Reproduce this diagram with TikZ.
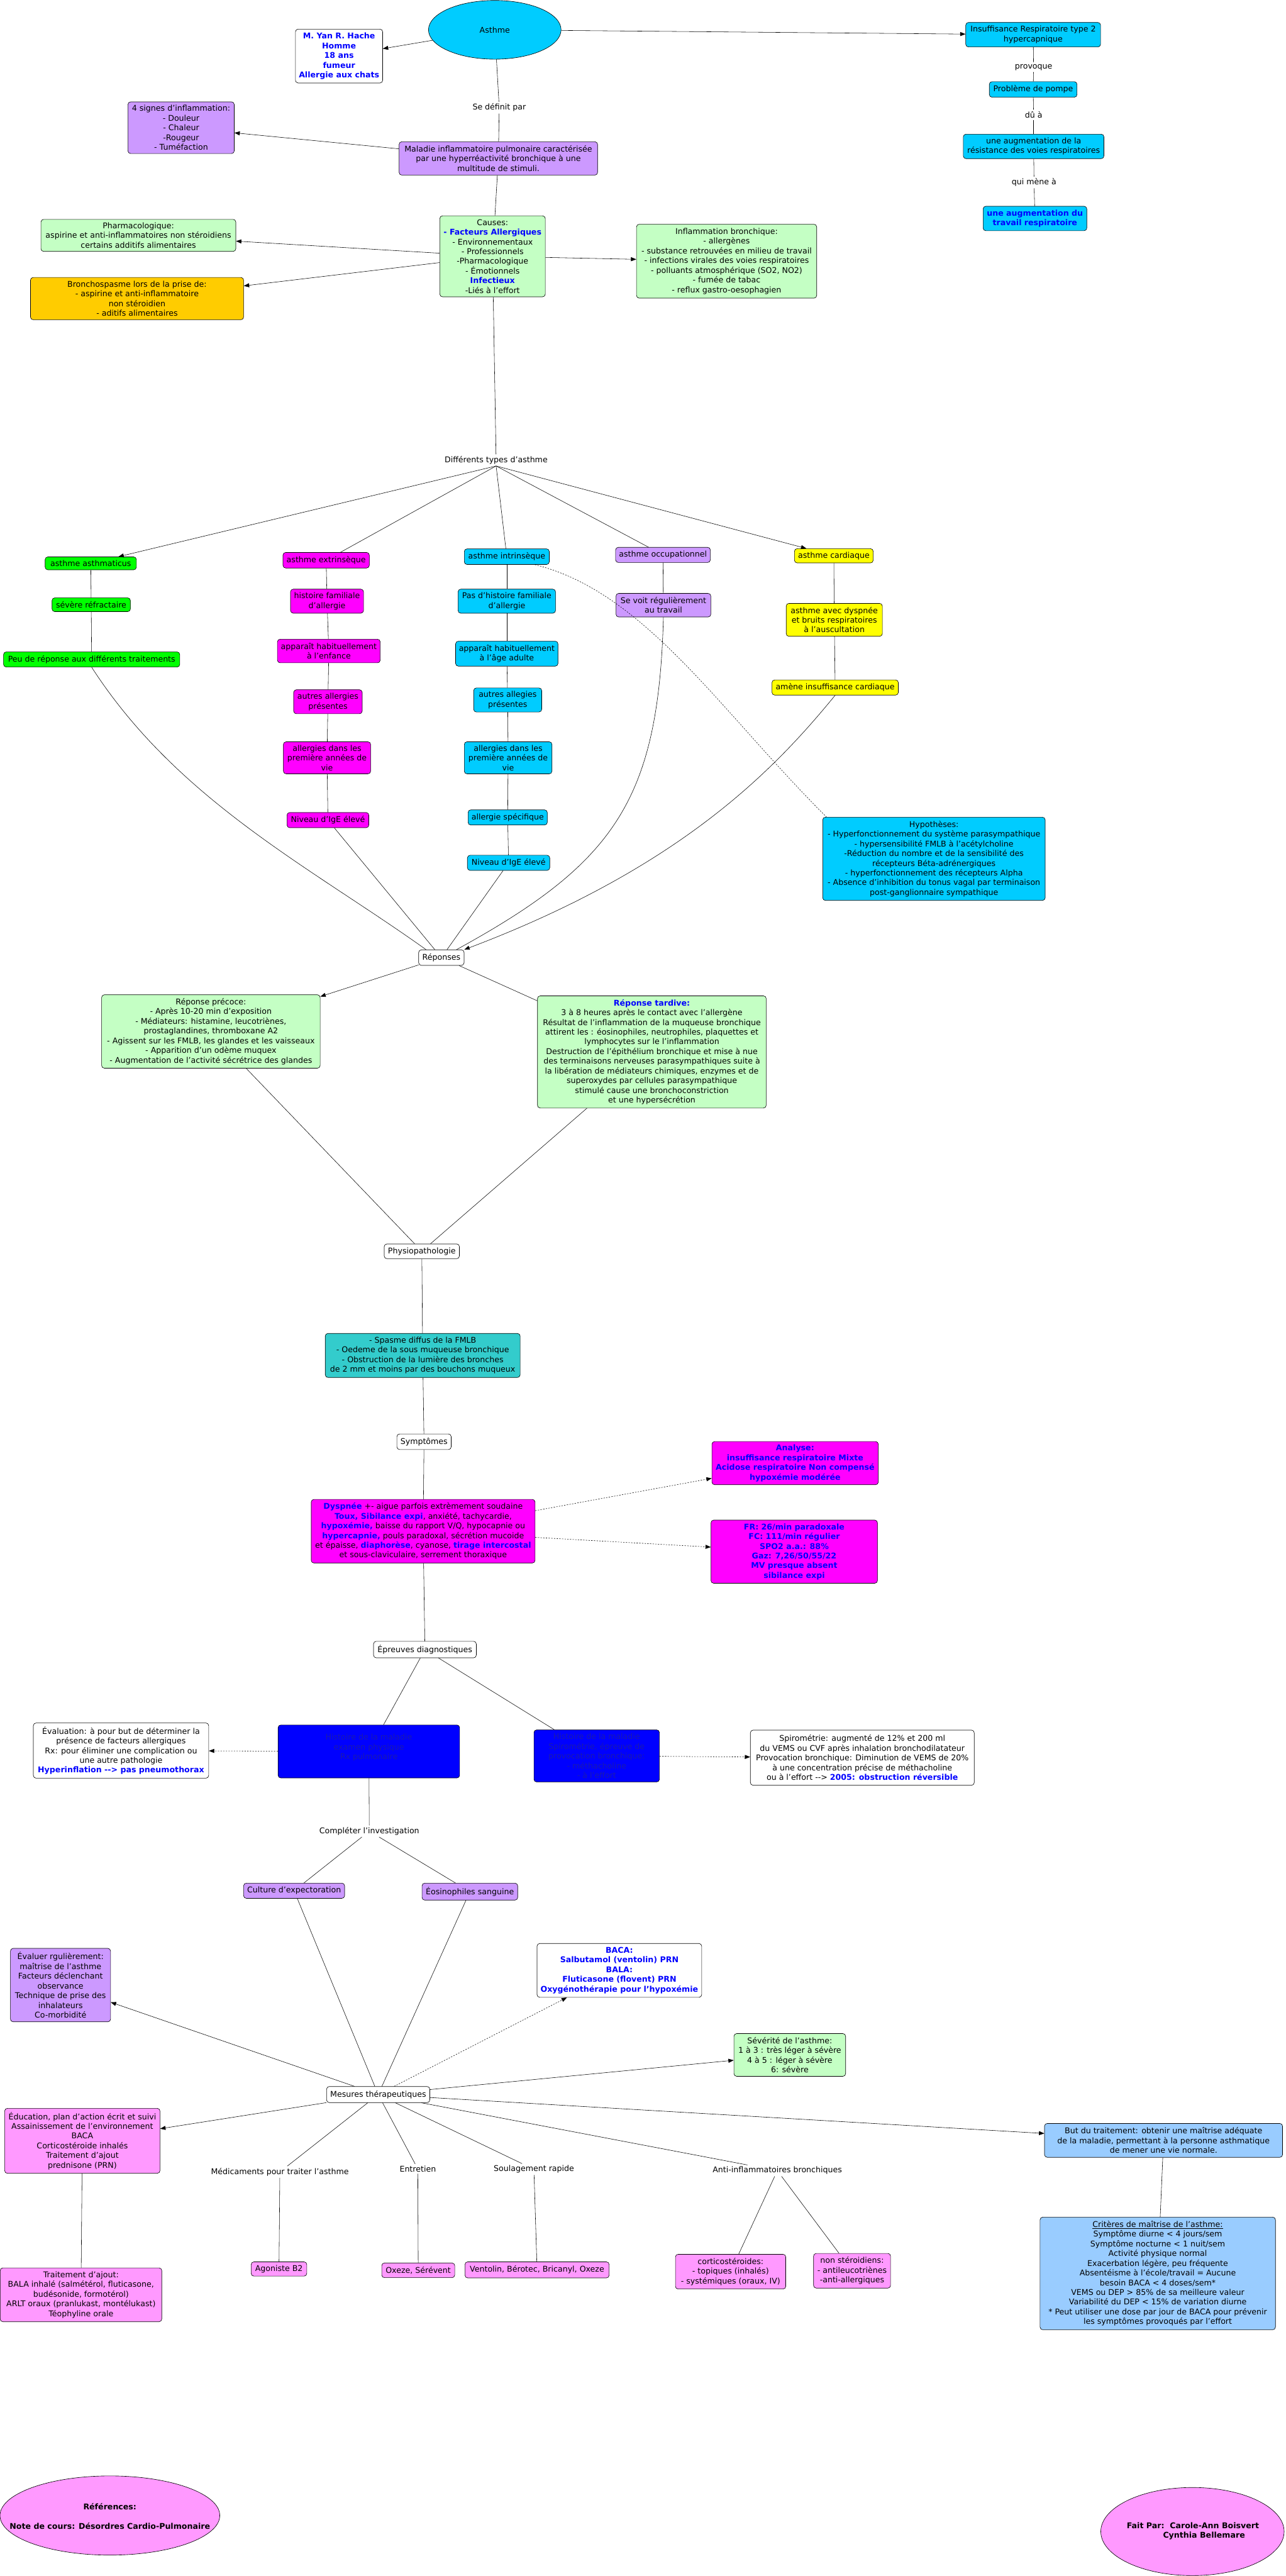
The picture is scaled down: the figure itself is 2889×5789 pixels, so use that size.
\documentclass[tikz,border=0pt]{standalone}
\usepackage{fontspec}
\setmainfont{DejaVu Sans}
\usetikzlibrary{shapes.geometric,arrows.meta,calc}
\definecolor{ccyan}{HTML}{00CCFF}
\definecolor{cpurple}{HTML}{CC99FF}
\definecolor{cgreen}{HTML}{C4FFC4}
\definecolor{corange}{HTML}{FFCC00}
\definecolor{cvert}{HTML}{00FF00}
\definecolor{cmag}{HTML}{FF00FF}
\definecolor{cyel}{HTML}{FFFF00}
\definecolor{cteal}{HTML}{33CCCC}
\definecolor{cblue}{HTML}{0000FF}
\definecolor{cpink}{HTML}{FF99FF}
\definecolor{clblue}{HTML}{99CCFF}
\definecolor{tblue}{HTML}{0000FF}
\definecolor{tnavy}{HTML}{1A1AB0}
\newcommand\bluebf[1]{\textcolor{tblue}{\bfseries #1}}
\begin{document}
\begin{tikzpicture}[x=1pt,y=-1pt,
  every node/.style={font=\fontsize{17.8}{21.8}\selectfont, align=center},
  box/.style={draw, rounded corners=6pt, inner sep=2pt, line width=0.9pt},
  sz/.style 2 args={minimum width=#1, minimum height=#2},
  lbl/.style={inner sep=4pt},
  conn/.style={line width=0.8pt},
  arr/.style={conn,-{Triangle[length=12pt,width=9pt]}},
  dotarr/.style={conn, dash pattern=on 3pt off 3pt, -{Triangle[length=12pt,width=9pt]}},
  dashc/.style={conn, dash pattern=on 3pt off 3pt},
  bigell/.style={ellipse, draw, line width=0.9pt, inner sep=0pt}
]
\fill[white] (0,0) rectangle (2889,5789);
\useasboundingbox (0,0) rectangle (2889,5789);

% ---------------- top ----------------
\node[bigell, fill=ccyan, sz={298}{132}] (asthme) at (1112,67) {Asthme};
\node[box, fill=white, sz={196}{121}] (hache) at (762,126) {\bluebf{M. Yan R. Hache}\\\bluebf{Homme}\\\bluebf{18 ans}\\\bluebf{fumeur}\\\bluebf{Allergie aux chats}};
\node[lbl] (sedef) at (1122,242) {Se définit par};
\node[box, fill=cpurple, sz={239}{116}] (signes) at (407,287) {4 signes d'inflammation:\\- Douleur\\- Chaleur\\-Rougeur\\- Tuméfaction};
\node[box, fill=cpurple, sz={446}{75}] (maladie) at (1120,356) {Maladie inflammatoire pulmonaire caractérisée\\par une hyperréactivité bronchique à une\\multitude de stimuli.};
\node[box, fill=cgreen, sz={237}{182}] (causes) at (1107,576) {Causes:\\\bluebf{- Facteurs Allergiques}\\- Environnementaux\\- Professionnels\\-Pharmacologique\\- Émotionnels\\\bluebf{Infectieux}\\-Liés à l'effort};
\node[box, fill=cgreen, sz={438}{72}] (pharma) at (311,529) {Pharmacologique:\\aspirine et anti-inflammatoires non stéroidiens\\certains additifs alimentaires};
\node[box, fill=corange, sz={479}{95}] (broncho) at (308,671) {Bronchospasme lors de la prise de:\\- aspirine et anti-inflammatoire\\non stéroidien\\- aditifs alimentaires};
\node[box, fill=cgreen, sz={405}{166}] (inflam) at (1633,587) {Inflammation bronchique:\\- allergènes\\- substance retrouvées en milieu de travail\\- infections virales des voies respiratoires\\- polluants atmosphérique (SO2, NO2)\\- fumée de tabac\\- reflux gastro-oesophagien};
\node[box, fill=ccyan, sz={303}{55}] (insuf) at (2322,78) {Insuffisance Respiratoire type 2\\hypercapnique};
\node[lbl] (provoque) at (2323,151) {provoque};
\node[box, fill=ccyan, sz={197}{35}] (pompe) at (2322,201) {Problème de pompe};
\node[lbl] (dua) at (2323,258) {dû à};
\node[box, fill=ccyan, sz={316}{55}] (resist) at (2323,329) {une augmentation de la\\résistance des voies respiratoires};
\node[lbl] (mene) at (2324,410) {qui mène à};
\node[box, fill=ccyan, sz={233}{55}] (travail) at (2326,491) {\bluebf{une augmentation du}\\\bluebf{travail respiratoire}};
\node[lbl] (types) at (1115,1034) {Différents types d'asthme};

% ---------------- types ----------------
\node[box, fill=cvert, sz={205}{29}] (asthmaticus) at (204,1266) {asthme asthmaticus};
\node[box, fill=cvert, sz={176}{31}] (severe) at (205,1359) {sévère réfractaire};
\node[box, fill=cvert, sz={396}{34}] (peu) at (206,1482) {Peu de réponse aux différents traitements};
\node[box, fill=cmag, sz={194}{35}] (extr) at (733,1259) {asthme extrinsèque};
\node[box, fill=cmag, sz={164}{54}] (exta) at (735,1351) {histoire familiale\\d'allergie};
\node[box, fill=cmag, sz={231}{53}] (extb) at (739,1463) {apparaît habituellement\\à l'enfance};
\node[box, fill=cmag, sz={154}{54}] (extc) at (737,1577) {autres allergies\\présentes};
\node[box, fill=cmag, sz={196}{72}] (extd) at (735,1703) {allergies dans les\\première années de\\vie};
\node[box, fill=cmag, sz={184}{34}] (exte) at (737,1843) {Niveau d'IgE élevé};
\node[box, fill=ccyan, sz={191}{35}] (intr) at (1139,1251) {asthme intrinsèque};
\node[box, fill=ccyan, sz={219}{54}] (inta) at (1139,1351) {Pas d'histoire familiale\\d'allergie};
\node[box, fill=ccyan, sz={230}{56}] (intb) at (1139,1469) {apparaît habituellement\\à l'âge adulte};
\node[box, fill=ccyan, sz={153}{54}] (intc) at (1141,1573) {autres allegies\\présentes};
\node[box, fill=ccyan, sz={197}{72}] (intd) at (1142,1703) {allergies dans les\\première années de\\vie};
\node[box, fill=ccyan, sz={178}{34}] (inte) at (1141,1837) {allergie spécifique};
\node[box, fill=ccyan, sz={185}{34}] (intf) at (1143,1939) {Niveau d'IgE élevé};
\node[box, fill=cpurple, sz={213}{34}] (occ) at (1490,1247) {asthme occupationnel};
\node[box, fill=cpurple, sz={213}{53}] (occa) at (1491,1360) {Se voit régulièrement\\au travail};
\node[box, fill=cyel, sz={177}{32}] (card) at (1874,1249) {asthme cardiaque};
\node[box, fill=cyel, sz={216}{74}] (carda) at (1875,1393) {asthme avec dyspnée\\et bruits respiratoires\\à l'auscultation};
\node[box, fill=cyel, sz={284}{34}] (cardb) at (1877,1545) {amène insuffisance cardiaque};
\node[box, fill=ccyan, sz={500}{187}] (hyp) at (2099,1930) {Hypothèses:\\- Hyperfonctionnement du système parasympathique\\- hypersensibilité FMLB à l'acétylcholine\\-Réduction du nombre et de la sensibilité des\\récepteurs Béta-adrénergiques\\- hyperfonctionnement des récepteurs Alpha\\- Absence d'inhibition du tonus vagal par terminaison\\post-ganglionnaire sympathique};

% ---------------- responses ----------------
\node[box, fill=white, sz={102}{35}] (rep) at (992,2152) {Réponses};
\node[box, fill=cgreen, sz={491}{165}] (precoce) at (474,2318) {Réponse précoce:\\- Après 10-20 min d'exposition\\- Médiateurs: histamine, leucotriènes,\\prostaglandines, thromboxane A2\\- Agissent sur les FMLB, les glandes et les vaisseaux\\- Apparition d'un odème muquex\\- Augmentation de l'activité sécrétrice des glandes};
\node[box, fill=cgreen, sz={514}{252}] (tardive) at (1465,2364) {\bluebf{Réponse tardive:}\\3 à 8 heures après le contact avec l'allergène\\Résultat de l'inflammation de la muqueuse bronchique\\attirent les : éosinophiles, neutrophiles, plaquettes et\\lymphocytes sur le l'inflammation\\Destruction de l'épithélium bronchique et mise à nue\\des terminaisons nerveuses parasympathiques suite à\\la libération de médiateurs chimiques, enzymes et de\\superoxydes par cellules parasympathique\\stimulé cause une bronchoconstriction\\et une hypersécrétion};
\node[box, fill=white, sz={169}{33}] (physio) at (948,2812) {Physiopathologie};
\node[box, fill=cteal, sz={438}{99}] (spasme) at (950,3046) {- Spasme diffus de la FMLB\\- Oedeme de la sous muqueuse bronchique\\- Obstruction de la lumière des bronches\\de 2 mm et moins par des bouchons muqueux};
\node[box, fill=white, sz={122}{35}] (sympt) at (953,3240) {Symptômes};
\node[box, fill=cmag, sz={503}{143}] (dysp) at (951,3441) {\bluebf{Dyspnée} +- aigue parfois extrèmement soudaine\\\bluebf{Toux, Sibilance expi}, anxiété, tachycardie,\\\bluebf{hypoxémie,} baisse du rapport V/Q, hypocapnie ou\\\bluebf{hypercapnie,} pouls paradoxal, sécrétion mucoide\\et épaisse, \bluebf{diaphorèse}, cyanose, \bluebf{tirage intercostal}\\et sous-claviculaire, serrement thoraxique};
\node[box, fill=cmag, sz={374}{97}] (analyse) at (1787,3288) {\bluebf{Analyse:}\\\bluebf{insuffisance respiratoire Mixte}\\\bluebf{Acidose respiratoire Non compensé}\\\bluebf{hypoxémie modérée}};
\node[box, fill=cmag, sz={374}{142}] (fr) at (1785,3487) {\bluebf{FR: 26/min paradoxale}\\\bluebf{FC: 111/min régulier}\\\bluebf{SPO2 a.a.: 88\%}\\\bluebf{Gaz: 7,26/50/55/22}\\\bluebf{MV presque absent}\\\bluebf{sibilance expi}};
\node[box, fill=white, sz={231}{37}] (epreuves) at (955,3707) {Épreuves diagnostiques};
\node[box, fill=white, sz={394}{124}] (eval) at (272,3934) {Évaluation: à pour but de déterminer la\\présence de facteurs allergiques\\Rx: pour éliminer une complication ou\\une autre pathologie\\\bluebf{Hyperinflation -{}-> pas pneumothorax}};
\node[box, fill=cblue, text=tnavy, sz={408}{119}] (blueA) at (829,3936) {Histoire de la maladie\\examen physique\\Rx pulmonaire\\\mbox{}};
\node[box, fill=cblue, text=tnavy, sz={282}{117}] (blueB) at (1341,3946) {Histoire de la maladie\\Spirométrie, épreuve de\\provocation bronchique:\\- méthacholine\\- à l'effort};
\node[box, fill=white, sz={503}{124}] (spiro) at (1938,3950) {Spirométrie: augmenté de 12\% et 200 ml\\du VEMS ou CVF après inhalation bronchodilatateur\\Provocation bronchique: Diminution de VEMS de 20\%\\à une concentration précise de méthacholine\\ou à l'effort -{}-> \bluebf{2005: obstruction réversible}};
\node[lbl] (completer) at (830,4115) {Compléter l'investigation};
\node[box, fill=cpurple, sz={227}{34}] (culture) at (661,4249) {Culture d'expectoration};
\node[box, fill=cpurple, sz={215}{38}] (eos) at (1056,4251) {Éosinophiles sanguine};
\node[box, fill=cpurple, sz={225}{165}] (evaluer) at (136,4461) {Évaluer rgulièrement:\\maîtrise de l'asthme\\Facteurs déclenchant\\observance\\Technique de prise des\\inhalateurs\\Co-morbidité};
\node[box, fill=white, sz={370}{121}] (baca) at (1392,4428) {\bluebf{BACA:}\\\bluebf{Salbutamol (ventolin) PRN}\\\bluebf{BALA:}\\\bluebf{Fluticasone (flovent) PRN}\\\bluebf{Oxygénothérapie pour l'hypoxémie}};
\node[box, fill=white, sz={232}{36}] (mesures) at (850,4707) {Mesures thérapeutiques};
\node[box, fill=cgreen, sz={251}{96}] (severite) at (1775,4618) {Sévérité de l'asthme:\\1 à 3 : très léger à sévère\\4 à 5 : léger à sévère\\6: sévère};
\node[box, fill=clblue, sz={535}{76}] (but) at (2615,4810) {But du traitement: obtenir une maîtrise adéquate\\de la maladie, permettant à la personne asthmatique\\de mener une vie normale.};
\node[box, fill=cpink, sz={349}{146}] (education) at (185,4811) {Éducation, plan d'action écrit et suivi\\Assainissement de l'environnement\\BACA\\Corticostéroide inhalés\\Traitement d'ajout\\prednisone (PRN)};
\node[lbl] (medic) at (629,4881) {Médicaments pour traiter l'asthme};
\node[lbl] (entretien) at (939,4874) {Entretien};
\node[lbl] (soulag) at (1200,4875) {Soulagement rapide};
\node[lbl] (antiinf) at (1747,4878) {Anti-inflammatoires bronchiques};
\node[box, fill=cpink, sz={363}{121}] (traitement) at (182,5157) {Traitement d'ajout:\\BALA inhalé (salmétérol, fluticasone,\\budésonide, formotérol)\\ARLT oraux (pranlukast, montélukast)\\Téophyline orale};
\node[box, fill=cpink, sz={125}{32}] (agoniste) at (627,5099) {Agoniste B2};
\node[box, fill=cpink, sz={164}{33}] (oxeze) at (940,5102) {Oxeze, Sérévent};
\node[box, fill=cpink, sz={324}{36}] (ventolin) at (1207,5101) {Ventolin, Bérotec, Bricanyl, Oxeze};
\node[box, fill=cpink, sz={248}{78}] (cortico) at (1642,5105) {corticostéroides:\\- topiques (inhalés)\\- systémiques (oraux, IV)};
\node[box, fill=cpink, sz={173}{78}] (nonster) at (1915,5103) {non stéroidiens:\\- antileucotriènes\\-anti-allergiques};
\node[box, fill=clblue, sz={529}{253}] (criteres) at (2602,5109) {\underline{Critères de maîtrise de l'asthme:}\\Symptôme diurne < 4 jours/sem\\Symptôme nocturne < 1 nuit/sem\\Activité physique normal\\Exacerbation légère, peu fréquente\\Absentéisme à l'école/travail = Aucune\\besoin BACA < 4 doses/sem*\\VEMS ou DEP > 85\% de sa meilleure valeur\\Variabilité du DEP < 15\% de variation diurne\\* Peut utiliser une dose par jour de BACA pour prévenir\\les symptômes provoqués par l'effort};
\node[bigell, fill=cpink, sz={494}{178}] (refs) at (247,5653) {};
\node[font=\fontsize{17.8}{21.8}\selectfont\bfseries] (refstxt) at (247,5655) {Références:\\[21.8pt]Note de cours: Désordres Cardio-Pulmonaire};
\node[bigell, fill=cpink, sz={412}{198}] (fait) at (2680,5689) {};
\node[font=\fontsize{17.8}{21.8}\selectfont\bfseries] (faittxt) at (2681,5688) {Fait Par:\ \ Carole-Ann Boisvert\\\hspace*{50pt}Cynthia Bellemare};

% ---------------- connectors ----------------
\draw[arr] (asthme) -- (hache);
\draw[arr] (asthme) -- (insuf);
\draw[conn] (asthme) -- (sedef);
\draw[conn] (sedef) -- (maladie);
\draw[arr] (maladie) -- (signes);
\draw[conn] (maladie) -- (causes);
\draw[arr] (causes) -- (pharma);
\draw[arr] (causes) -- (broncho);
\draw[arr] (causes) -- (inflam);
\draw[conn] (causes) -- (types);
\draw[conn] (insuf) -- (provoque);
\draw[conn] (provoque) -- (pompe);
\draw[conn] (pompe) -- (dua);
\draw[conn] (dua) -- (resist);
\draw[conn] (resist) -- (mene);
\draw[conn] (mene) -- (travail);

\draw[arr] (types.south) -- (asthmaticus);
\draw[conn] (types.south) -- (extr);
\draw[conn] (types.south) -- (intr);
\draw[conn] (types.south) -- (occ);
\draw[arr] (types.south) -- (card);

\draw[conn] (asthmaticus) -- (severe);
\draw[conn] (severe) -- (peu);
\draw[conn] (extr) -- (exta);
\draw[conn] (exta) -- (extb);
\draw[conn] (extb) -- (extc);
\draw[conn] (extc) -- (extd);
\draw[conn] (extd) -- (exte);
\draw[conn] (intr) -- (inta);
\draw[conn] (inta) -- (intb);
\draw[conn] (intb) -- (intc);
\draw[conn] (intc) -- (intd);
\draw[conn] (intd) -- (inte);
\draw[conn] (inte) -- (intf);
\draw[conn] (occ) -- (occa);
\draw[conn] (card) -- (carda);
\draw[conn] (carda) -- (cardb);

\draw[conn] (peu.south) .. controls (400,1800) and (700,1950) .. ($(rep.north west)+(17,0)$);
\draw[conn] (exte) -- (rep);
\draw[conn] (intf) -- (rep);
\draw[conn] (occa.south) .. controls (1480,1800) and (1380,1940) .. ($(rep.north)+(34,0)$);
\draw[arr] (cardb.south) .. controls (1740,1730) and (1530,1950) .. (rep.north east);
\draw[dashc] ($(intr.south east)+(-33,0)$) .. controls (1450,1330) and (1620,1600) .. ($(hyp.north west)+(9,0)$);

\draw[arr] (rep) -- (precoce);
\draw[conn] (rep) -- (tardive);
\draw[conn] (precoce) -- (physio);
\draw[conn] (tardive) -- (physio);
\draw[conn] (physio) -- (spasme);
\draw[conn] (spasme) -- (sympt);
\draw[conn] (sympt) -- (dysp);
\draw[dotarr] (dysp) -- (analyse);
\draw[dotarr] (dysp) -- (fr);
\draw[conn] (dysp) -- (epreuves);
\draw[conn] (epreuves) -- (blueA);
\draw[conn] (epreuves) -- (blueB);
\draw[dotarr] (blueA) -- (eval);
\draw[dotarr] (blueB) -- (spiro);
\draw[conn] (blueA) -- (completer);
\draw[conn] (completer) -- (culture);
\draw[conn] (completer) -- (eos);
\draw[conn] (culture) -- (mesures);
\draw[conn] (eos) -- (mesures);
\draw[arr] (mesures) -- (evaluer);
\draw[dotarr] (mesures) -- (baca);
\draw[arr] (mesures) -- (severite);
\draw[arr] (mesures) -- (but);
\draw[arr] (mesures) -- (education);
\draw[conn] (mesures) -- (medic);
\draw[conn] (mesures) -- (entretien);
\draw[conn] (mesures) -- (soulag);
\draw[conn] (mesures) -- (antiinf);
\draw[conn] (medic) -- (agoniste);
\draw[conn] (entretien) -- (oxeze);
\draw[conn] (soulag) -- (ventolin);
\draw[conn] (antiinf) -- (cortico);
\draw[conn] (antiinf) -- (nonster);
\draw[conn] (education) -- (traitement);
\draw[conn] (but) -- (criteres);
\end{tikzpicture}
\end{document}
